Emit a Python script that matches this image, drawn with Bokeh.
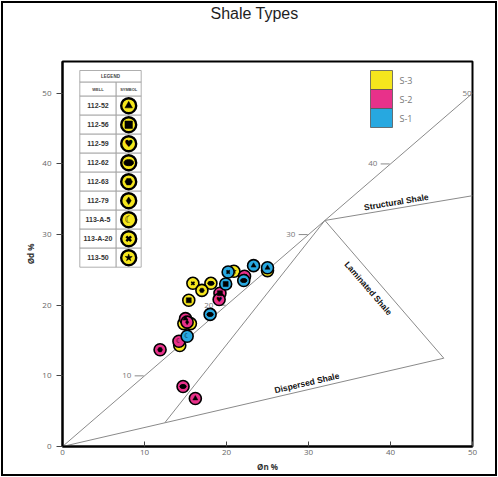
import math
from bokeh.plotting import figure
from bokeh.models import Range1d, Title
from bokeh.core.properties import value
from bokeh.embed import file_html
from bokeh.resources import INLINE

# ---------------- data ----------------
x_ticks = [0, 10, 20, 30, 40, 50]
y_ticks = [0, 10, 20, 30, 40, 50]
diag_ticks = [10, 20, 30, 40]
diag_end_label = 50

# Thomas-Stieber style model lines
total_line_x = [0, 50]
total_line_y = [0, 50]
dispersed_x = [0, 46.5]
dispersed_y = [0, 12.5]
laminated_x = [46.5, 32]
laminated_y = [12.5, 32]
structural_x = [32, 50]
structural_y = [32, 35.5]
inner_x = [12.5, 32]
inner_y = [3.4, 32]

wells = ["112-52", "112-56", "112-59", "112-62", "112-63",
         "112-79", "113-A-5", "113-A-20", "113-50"]

series_names = ["S-3", "S-2", "S-1"]
series_colors = ["#f5e61d", "#e8318a", "#27a8e0"]

s3_x = [20.9, 15.9, 18.1, 17.0, 15.4, 15.6, 14.8, 14.3, 25.0]
s3_y = [24.8, 23.1, 23.1, 22.1, 20.7, 17.4, 17.4, 14.3, 24.9]
s3_well = ["113-50", "113-A-20", "112-62", "112-63", "112-56",
           "112-59", "112-79", "113-A-5", "112-52"]

s2_x = [22.2, 19.2, 19.1, 15.0, 15.2, 14.2, 11.9, 14.7, 16.2]
s2_y = [24.1, 21.7, 20.8, 18.1, 17.6, 14.9, 13.7, 8.5, 6.8]
s2_well = ["112-62", "112-56", "112-59", "112-52", "112-79",
           "113-A-5", "112-63", "112-62", "112-52"]

s1_x = [23.3, 20.2, 22.1, 19.9, 18.0, 15.2, 25.0]
s1_y = [25.6, 24.7, 23.5, 23.0, 18.7, 15.6, 25.3]
s1_well = ["112-52", "113-A-20", "112-62", "112-56", "112-62",
           "113-A-5", "112-52"]

# symbol used for each well
well_symbol = {
    "112-52": ("marker", "triangle"),
    "112-56": ("marker", "square"),
    "112-59": ("text", "\u2665"),
    "112-62": ("ellipse", None),
    "112-63": ("marker", "hex"),
    "112-79": ("marker", "diamond"),
    "113-A-5": ("text", "\u263E"),
    "113-A-20": ("xmark", "x"),
    "113-50": ("marker", "star"),
}

chart_title = "Shale Types"

# ---------------- figure ----------------
X_MAX, Y_MAX = 50, 54.5
p = figure(width=498, height=477, output_backend="svg", toolbar_location=None,
           x_range=Range1d(0, X_MAX), y_range=Range1d(0, Y_MAX),
           min_border_left=62, min_border_right=26, min_border_top=61,
           min_border_bottom=31, title=None)
p.styles = {"outline": "2px solid black", "outline-offset": "-3px"}
p.background_fill_color = "white"
p.border_fill_color = "white"
p.border_fill_alpha = 0
p.grid.visible = False
p.outline_line_color = "black"
p.outline_line_width = 2

# spacer between frame and title, then the title itself
p.add_layout(Title(text=" ", text_font_size="2px", standoff=36,
                   text_color="white"), "above")
p.add_layout(Title(text=chart_title, align="left", offset=148, standoff=0,
                   text_font="Liberation Sans", text_font_size="16px",
                   text_font_style="normal", text_color="#1e1e1e"), "above")

# pixel scale for angles / placement
FW, FH = 410.0, 385.0
XS, YS = FW / X_MAX, FH / Y_MAX

for ax in (p.xaxis[0], p.yaxis[0]):
    ax.axis_line_color = "black"
    ax.axis_line_width = 2
    ax.major_tick_line_color = "#444444"
    ax.minor_tick_line_color = None
    ax.major_label_text_font = "Open Sans"
    ax.major_label_text_font_size = "8px"
    ax.major_label_text_color = "#666666"
    ax.axis_label_text_font = "Open Sans"
    ax.axis_label_text_font_size = "8px"
    ax.axis_label_text_font_style = "bold"
    ax.axis_label_text_color = "#333333"

p.xaxis.ticker = x_ticks
p.yaxis.ticker = y_ticks
p.xaxis.major_tick_in = 5
p.xaxis.major_tick_out = 0
p.xaxis.major_label_standoff = 3
p.xaxis.axis_label = "\u00D8n %"
p.xaxis.axis_label_standoff = 3
p.yaxis.major_tick_in = 0
p.yaxis.major_tick_out = 6
p.yaxis.major_label_standoff = 5
p.yaxis.axis_label = "\u00D8d %"
p.yaxis.axis_label_standoff = 3

# ---------------- model lines ----------------
line_col = "#8a8a8a"
for lx, ly in [(total_line_x, total_line_y), (dispersed_x, dispersed_y),
               (laminated_x, laminated_y), (structural_x, structural_y),
               (inner_x, inner_y)]:
    p.line(lx, ly, line_color=line_col, line_width=1)

# ticks on the total porosity line
p.segment(x0=[v - 1.2 for v in diag_ticks], y0=diag_ticks,
          x1=[v - 0.1 for v in diag_ticks], y1=diag_ticks,
          line_color=line_col, line_width=1)
p.text(x=[v - 1.6 for v in diag_ticks], y=diag_ticks,
       text=[str(v) for v in diag_ticks], text_align="right",
       text_baseline="middle", text_font=value("Open Sans"),
       text_font_size="8px", text_color="#777777")
p.text(x=[diag_end_label - 0.1], y=[diag_end_label], text=[str(diag_end_label)],
       text_align="right", text_baseline="middle", text_font=value("Open Sans"),
       text_font_size="8px", text_color="#777777")

def ang(x0, y0, x1, y1):
    return math.atan2((y1 - y0) * YS, (x1 - x0) * XS)

lab_font = value("Liberation Sans")
p.text(x=[40.7], y=[34.6], text=["Structural Shale"],
       angle=[ang(structural_x[0], structural_y[0], structural_x[1], structural_y[1])],
       text_align="center", text_baseline="middle", text_font=lab_font,
       text_font_size="8.5px", text_font_style="bold", text_color="#111111")
p.text(x=[37.3], y=[22.4], text=["Laminated Shale"],
       angle=[ang(laminated_x[1], laminated_y[1], laminated_x[0], laminated_y[0])],
       text_align="center", text_baseline="middle", text_font=lab_font,
       text_font_size="8.5px", text_font_style="bold", text_color="#111111")
p.text(x=[29.8], y=[9.0], text=["Dispersed Shale"],
       angle=[ang(dispersed_x[0], dispersed_y[0], dispersed_x[1], dispersed_y[1])],
       text_align="center", text_baseline="middle", text_font=lab_font,
       text_font_size="8.5px", text_font_style="bold", text_color="#111111")


def draw_symbols(xs, ys, ws, fill, outer_size, outer_lw, inner_size, text_size):
    p.scatter(xs, ys, marker="circle", size=outer_size, fill_color=fill,
              line_color="black", line_width=outer_lw)
    groups = {}
    for x, y, w in zip(xs, ys, ws):
        kind, sym = well_symbol[w]
        groups.setdefault((kind, sym), ([], []))
        groups[(kind, sym)][0].append(x)
        groups[(kind, sym)][1].append(y)
    for (kind, sym), (gx, gy) in groups.items():
        if kind == "marker":
            p.scatter(gx, gy, marker=sym, size=inner_size, fill_color="black",
                      line_color="black", line_width=0.5)
        elif kind == "xmark":
            p.scatter(gx, gy, marker="x", size=inner_size * 0.9,
                      line_color="black", line_width=max(1.5, inner_size / 3.0))
        elif kind == "ellipse":
            p.ellipse(gx, gy, width=inner_size * 1.25, height=inner_size * 0.8,
                      width_units="screen", height_units="screen",
                      fill_color="black", line_color="black")
        else:
            p.text(gx, gy, text=[sym] * len(gx), text_align="center",
                   text_baseline="middle", text_font=value("DejaVu Sans"),
                   text_font_size=text_size, text_color="black")


# ---------------- data points ----------------
for xs, ys, ws, col in [(s3_x, s3_y, s3_well, series_colors[0]),
                        (s2_x, s2_y, s2_well, series_colors[1]),
                        (s1_x, s1_y, s1_well, series_colors[2])]:
    draw_symbols(xs, ys, ws, col, 12, 1.6, 5.0, "7px")

# ---------------- well legend table ----------------
def ry(py):
    return (446.0 - py) / YS

def rx(px):
    return (px - 62.0) / XS

t_left, t_mid, t_right = rx(79.3), rx(115.7), rx(140.7)
row_edges = [ry(70), ry(81.7), ry(95.7)] + [ry(95.7 + 19.0 * (i + 1)) for i in range(len(wells))]

cell_l, cell_r, cell_t, cell_b = [t_left], [t_right], [row_edges[0]], [row_edges[1]]
for i in range(1, len(row_edges) - 1):
    cell_l += [t_left, t_mid]
    cell_r += [t_mid, t_right]
    cell_t += [row_edges[i], row_edges[i]]
    cell_b += [row_edges[i + 1], row_edges[i + 1]]
p.quad(left=cell_l, right=cell_r, top=cell_t, bottom=cell_b,
       fill_color="white", line_color="#9a9a9a", line_width=0.8)

p.text(x=[(t_left + t_right) / 2], y=[(row_edges[0] + row_edges[1]) / 2],
       text=["LEGEND"], text_align="center", text_baseline="middle",
       text_font=lab_font, text_font_size="4.5px", text_font_style="bold",
       text_color="#444444")
p.text(x=[(t_left + t_mid) / 2, (t_mid + t_right) / 2],
       y=[(row_edges[1] + row_edges[2]) / 2] * 2, text=["WELL", "SYMBOL"],
       text_align="center", text_baseline="middle", text_font=lab_font,
       text_font_size="4px", text_font_style="bold", text_color="#444444")

row_c = [(row_edges[i] + row_edges[i + 1]) / 2 for i in range(2, len(row_edges) - 1)]
p.text(x=[(t_left + t_mid) / 2] * len(wells), y=row_c, text=wells,
       text_align="center", text_baseline="middle", text_font=lab_font,
       text_font_size="7px", text_font_style="bold", text_color="#333333")
draw_symbols([(t_mid + t_right) / 2] * len(wells), row_c, wells, series_colors[0],
             15, 2.4, 7.5, "10px")

# ---------------- colour legend (S-3 / S-2 / S-1) ----------------
lg_left, lg_right = rx(370), rx(392)
lg_edges = [ry(70 + 19 * i) for i in range(len(series_names) + 1)]
p.quad(left=[lg_left] * len(series_names), right=[lg_right] * len(series_names),
       top=lg_edges[:-1], bottom=lg_edges[1:], fill_color=series_colors,
       line_color="#555555", line_width=0.8)
p.text(x=[rx(399)] * len(series_names),
       y=[(lg_edges[i] + lg_edges[i + 1]) / 2 for i in range(len(series_names))],
       text=series_names, text_align="left", text_baseline="middle",
       text_font=value("Open Sans"), text_font_size="9px", text_color="#777777")

open("out.html", "w").write(file_html(p, INLINE))
